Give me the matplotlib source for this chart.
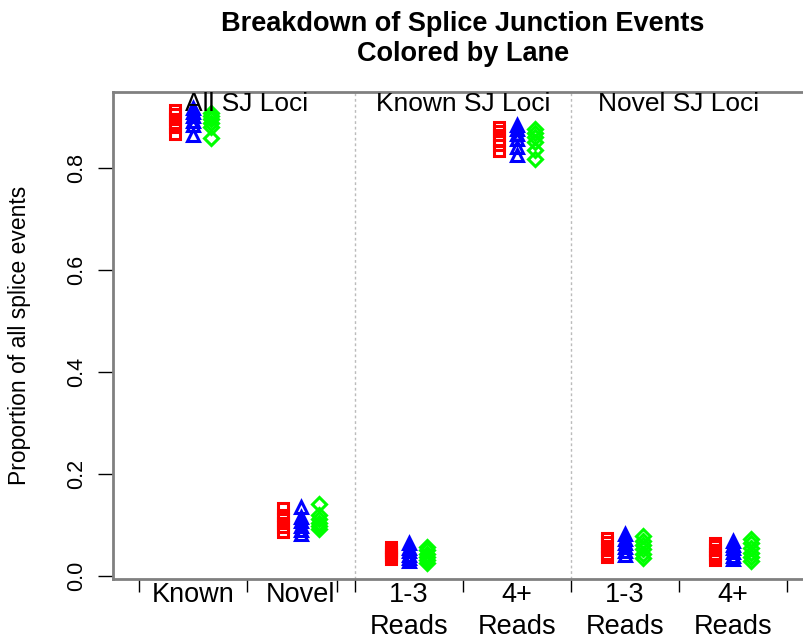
import numpy as np
import matplotlib
matplotlib.use("Agg")
import matplotlib.pyplot as plt

plt.rcParams['font.family'] = ['Liberation Sans', 'DejaVu Sans']

# categories along x (tick labels) and the group headers
categories = ["Known", "Novel", "1-3\nReads", "4+\nReads", "1-3\nReads", "4+\nReads"]
groups = ["All SJ Loci", "Known SJ Loci", "Novel SJ Loci"]
group_pos = [1.5, 3.5, 5.5]
y_ticks = [0.0, 0.2, 0.4, 0.6, 0.8]

# proportions per lane, one list per category (samples)
lane1_known = [0.914, 0.905, 0.897, 0.889, 0.880, 0.866]
lane1_novel = [0.086, 0.095, 0.103, 0.111, 0.120, 0.134]
lane1_known_13 = [0.034, 0.038, 0.042, 0.046, 0.051, 0.057]
lane1_known_4 = [0.880, 0.872, 0.864, 0.855, 0.845, 0.833]
lane1_novel_13 = [0.037, 0.044, 0.051, 0.058, 0.066, 0.075]
lane1_novel_4 = [0.031, 0.037, 0.044, 0.051, 0.058, 0.065]

lane2_known = [0.918, 0.910, 0.902, 0.893, 0.885, 0.864]
lane2_novel = [0.082, 0.090, 0.098, 0.107, 0.115, 0.136]
lane2_known_13 = [0.030, 0.036, 0.042, 0.048, 0.055, 0.064]
lane2_known_4 = [0.884, 0.876, 0.866, 0.856, 0.842, 0.826]
lane2_novel_13 = [0.041, 0.049, 0.057, 0.065, 0.073, 0.082]
lane2_novel_4 = [0.033, 0.040, 0.047, 0.054, 0.061, 0.069]

lane3_known = [0.908, 0.902, 0.896, 0.889, 0.880, 0.859]
lane3_novel = [0.092, 0.098, 0.104, 0.111, 0.120, 0.141]
lane3_known_13 = [0.025, 0.031, 0.037, 0.044, 0.050, 0.057]
lane3_known_4 = [0.876, 0.868, 0.860, 0.850, 0.835, 0.817]
lane3_novel_13 = [0.035, 0.043, 0.052, 0.060, 0.069, 0.078]
lane3_novel_4 = [0.029, 0.037, 0.045, 0.055, 0.064, 0.073]

lanes = [
    ([lane1_known, lane1_novel, lane1_known_13, lane1_known_4, lane1_novel_13, lane1_novel_4], "#ff0000", "s", 7.5, -0.17),
    ([lane2_known, lane2_novel, lane2_known_13, lane2_known_4, lane2_novel_13, lane2_novel_4], "#0000ff", "^", 8.5, 0.0),
    ([lane3_known, lane3_novel, lane3_known_13, lane3_known_4, lane3_novel_13, lane3_novel_4], "#00ff00", "D", 7.3, 0.17),
]

fig = plt.figure(figsize=(8.04, 6.39), dpi=100)
ax = fig.add_axes([113 / 804, 1 - 579 / 639, 700 / 804, 487 / 639])

xpos = np.arange(1, len(categories) + 1)

for vals, col, mk, ms, off in lanes:
    for x, v in zip(xpos, vals):
        ax.plot(np.full(len(v), x + off), v, linestyle="none", marker=mk,
                markersize=ms, markerfacecolor="none", markeredgecolor=col,
                markeredgewidth=2.2)

# dotted separators between the groups
for xs in [2.5, 4.5]:
    ax.axvline(xs, color="#bbbbbb", linestyle=(0, (2, 2)), linewidth=1)

for gx, g in zip(group_pos, groups):
    ax.text(gx, 0.912, g, ha="center", va="baseline", fontsize=19)

ax.set_xlim(0.26, 6.74)
ax.set_ylim(-0.006, 0.949)

ax.set_xticks(xpos)
ax.set_xticklabels(categories, fontsize=19.5, linespacing=1.3)
ax.set_xticks([0.5, 1.5, 2.33, 2.5, 3.5, 4.5, 5.5, 6.5], minor=True)
ax.tick_params(axis="x", which="major", length=0, pad=2)
ax.tick_params(axis="x", which="minor", length=9.5, width=1, color="black", direction="out")

ax.set_yticks(y_ticks)
ax.set_yticklabels(["0.0", "0.2", "0.4", "0.6", "0.8"], fontsize=15.5)
ax.tick_params(axis="y", length=10.8, width=1, color="black", labelrotation=90, pad=7.5)
for lab in ax.get_yticklabels():
    lab.set_va("center")

for s in ax.spines.values():
    s.set_color("#808080")
    s.set_linewidth(2)

fig.text(20 / 804, 1 - 335 / 639, "Proportion of all splice events", rotation=90,
         ha="center", va="center", fontsize=16.5)
fig.text(463 / 804, 1 - 39 / 639, "Breakdown of Splice Junction Events\nColored by Lane",
         ha="center", va="center", fontsize=19.5, fontweight="bold", linespacing=1.2)

fig.savefig("out.png", dpi=100)
